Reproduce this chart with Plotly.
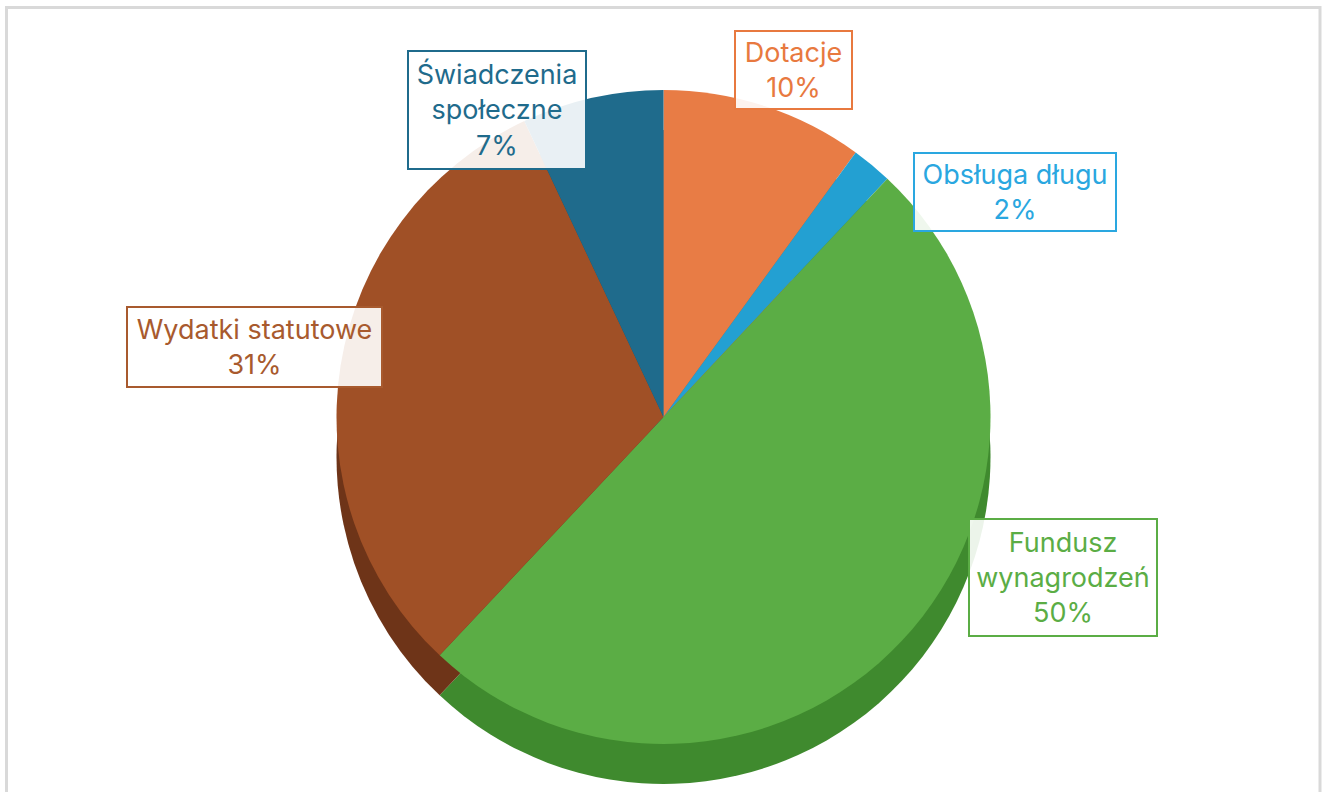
import plotly.graph_objects as go

labels = ["Dotacje", "Obsługa długu", "Fundusz wynagrodzeń", "Wydatki statutowe", "Świadczenia społeczne"]
label_text = ["Dotacje<br>10%", "Obsługa długu<br>2%", "Fundusz<br>wynagrodzeń<br>50%",
              "Wydatki statutowe<br>31%", "Świadczenia<br>społeczne<br>7%"]
values = [10, 2, 50, 31, 7]
colors = ["#E87C45", "#23A0D2", "#5BAD45", "#A05026", "#1F6B8C"]
side_colors = ["#B85A2C", "#1A7AA3", "#3F8A2E", "#6E3418", "#14506A"]
label_colors = ["#E8793F", "#2AA7E0", "#5BAD45", "#A85A2E", "#1F6B8C"]

W, H = 1327, 792
cx, cy, r = 663.5, 417, 327
y_top, y_bot = cy - r, cy + r
shift = 40

fig = go.Figure()
# darker "side" pie to suggest thickness
fig.add_trace(go.Pie(
    labels=labels, values=values, sort=False, direction="clockwise", rotation=0,
    textinfo="none", hoverinfo="skip", showlegend=False,
    marker=dict(colors=side_colors, line=dict(width=0)),
    domain=dict(x=[0, 1], y=[1 - (y_bot + shift) / H, 1 - (y_top + shift) / H]),
))
fig.add_trace(go.Pie(
    labels=labels, values=values, sort=False, direction="clockwise", rotation=0,
    textinfo="none", showlegend=False,
    marker=dict(colors=colors, line=dict(width=0)),
    domain=dict(x=[0, 1], y=[1 - y_bot / H, 1 - y_top / H]),
))

# label boxes: (center x, center y, width, height) in pixels
boxes = [(793, 70, 119, 80), (1015, 192, 204, 80), (1063, 577, 190, 119),
         (254, 347, 257, 82), (497, 110, 180, 120)]
for (bx, by, bw, bh), txt, col in zip(boxes, label_text, label_colors):
    fig.add_annotation(
        x=bx / W, y=1 - by / H, xref="paper", yref="paper", showarrow=False,
        xanchor="center", yanchor="middle",
        text=txt, align="center", valign="middle",
        width=bw - 6, height=bh - 6, borderpad=1, borderwidth=2,
        bordercolor=col, bgcolor="rgba(255,255,255,0.9)",
        font=dict(family="Inter, Lato, sans-serif", size=27, color=col),
    )

fig.add_shape(type="rect", xref="paper", yref="paper",
              x0=6.5 / W, x1=1320 / W, y0=-0.1, y1=1 - 7.5 / H,
              line=dict(color="#D9D9D9", width=3), fillcolor="rgba(0,0,0,0)", layer="above")

fig.update_layout(
    width=W, height=H, margin=dict(l=0, r=0, t=0, b=0),
    paper_bgcolor="white", plot_bgcolor="white",
)
fig.write_html("out.html", config={"displayModeBar": False},
               post_script="document.body.style.margin='0';")
